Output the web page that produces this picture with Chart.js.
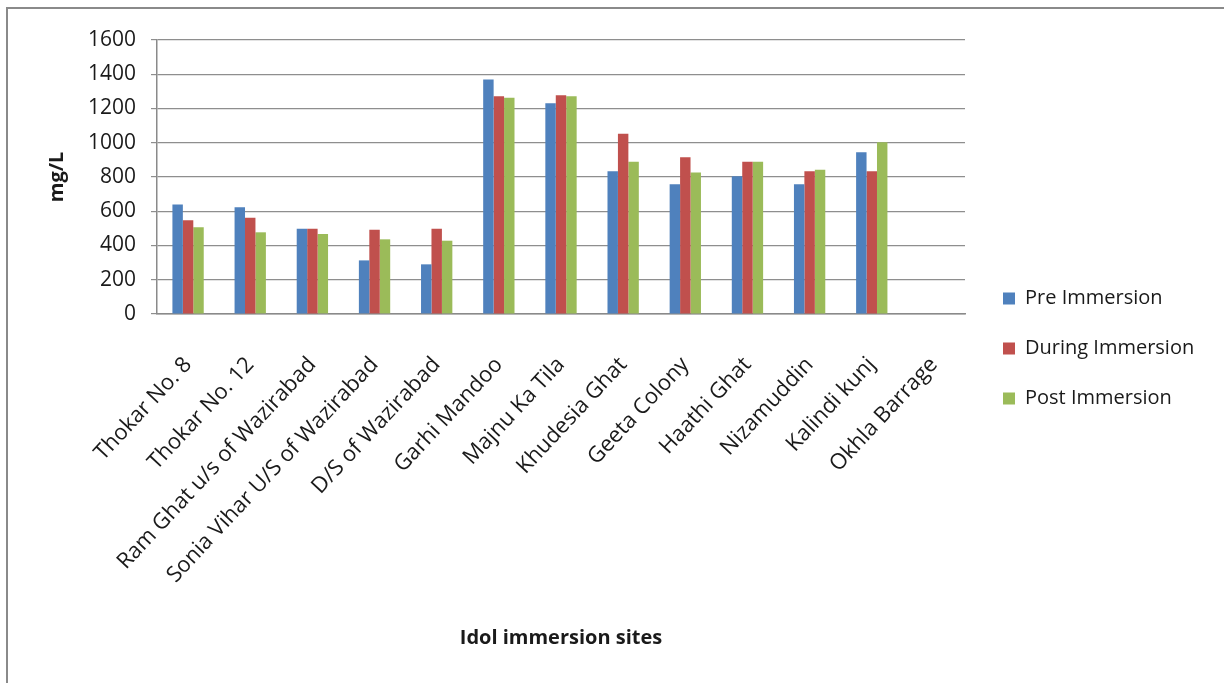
<!DOCTYPE html>
<html>
<head>
<meta charset="utf-8">
<script src="https://cdn.jsdelivr.net/npm/chart.js@4.4.1/dist/chart.umd.min.js"></script>
<style>
  html, body { margin: 0; padding: 0; background: #fff; overflow: hidden; }
  #wrap { position: relative; width: 1224px; height: 683px; overflow: hidden; }
  #frame { position: absolute; left: 6px; top: 7px; width: 1300px; height: 760px; border: 2px solid #8a8a8a; }
  #chart { position: absolute; left: 0; top: 0; }
</style>
</head>
<body>
<div id="wrap">
  <div id="frame"></div>
  <canvas id="chart" width="1224" height="683"></canvas>
</div>
<script>
// data
const sites = ['Thokar No. 8', 'Thokar No. 12', 'Ram Ghat u/s of Wazirabad', 'Sonia Vihar U/S of Wazirabad',
  'D/S of Wazirabad', 'Garhi Mandoo', 'Majnu Ka Tila', 'Khudesia Ghat', 'Geeta Colony', 'Haathi Ghat',
  'Nizamuddin', 'Kalindi kunj', 'Okhla Barrage'];
const preImmersion = [640, 623, 498, 313, 290, 1370, 1230, 833, 757, 804, 757, 944, null];
const duringImmersion = [547, 562, 498, 492, 498, 1271, 1277, 1053, 915, 889, 833, 833, null];
const postImmersion = [506, 477, 467, 436, 428, 1263, 1271, 889, 827, 889, 843, 1003, null];
const yTicks = [0, 200, 400, 600, 800, 1000, 1200, 1400, 1600];

const FONT = '"Open Sans", "Liberation Sans", sans-serif';
const TEXT = '#1a1a1a';

// legend width so the legend starts right where it does in the picture
const mctx = document.createElement('canvas').getContext('2d');
mctx.font = '20px ' + FONT;
const legendTextW = mctx.measureText('During Immersion').width;
const legendW = 30 + 12 + 10 + legendTextW;
const padRight = Math.max(0, 1224 - 975 - legendW);

new Chart(document.getElementById('chart'), {
  type: 'bar',
  data: {
    labels: sites,
    datasets: [
      { label: 'Pre Immersion', data: preImmersion, backgroundColor: '#4f81bd' },
      { label: 'During Immersion', data: duringImmersion, backgroundColor: '#c0504d' },
      { label: 'Post Immersion', data: postImmersion, backgroundColor: '#9bbb59' }
    ]
  },
  options: {
    responsive: false,
    devicePixelRatio: 1,
    animation: false,
    categoryPercentage: 0.504,
    barPercentage: 1,
    layout: { padding: { left: 0, top: 40, right: padRight, bottom: 26 } },
    scales: {
      x: {
        grid: { display: false, drawTicks: false },
        border: { color: '#8a8a8a', width: 1.5 },
        ticks: {
          autoSkip: false, minRotation: 47, maxRotation: 47, padding: 38,
          color: TEXT, font: { family: FONT, size: 22 }
        },
        title: {
          display: true, text: 'Idol immersion sites', color: TEXT,
          font: { family: FONT, size: 20, weight: 'bold' }, padding: { top: 0, bottom: 7 }
        },
        afterFit: (s) => { s.height = 343; }
      },
      y: {
        min: 0, max: 1600,
        afterBuildTicks: (s) => { s.ticks = yTicks.map(v => ({ value: v })); },
        grid: { color: '#8e8e8e', lineWidth: 1.2, tickLength: 6 },
        border: { color: '#8a8a8a', width: 1.5 },
        ticks: {
          padding: 15, color: TEXT, font: { family: FONT, size: 21 },
          callback: (v) => String(v)
        },
        title: {
          display: true, text: 'mg/L', color: TEXT,
          font: { family: FONT, size: 20, weight: 'bold' }, padding: { top: 45, bottom: 0 }
        },
        afterFit: (s) => { s.width = 157; }
      },
      spacer: {
        type: 'linear', position: 'right', display: true,
        grid: { display: false, drawTicks: false },
        border: { display: false },
        ticks: { display: false },
        afterFit: (s) => { s.width = 8; }
      }
    },
    plugins: {
      legend: {
        position: 'right',
        maxWidth: legendW + 2,
        labels: {
          boxWidth: 12, boxHeight: 12, padding: 30,
          color: TEXT, font: { family: FONT, size: 20 }
        }
      },
      tooltip: { enabled: false }
    }
  }
});
</script>
</body>
</html>
